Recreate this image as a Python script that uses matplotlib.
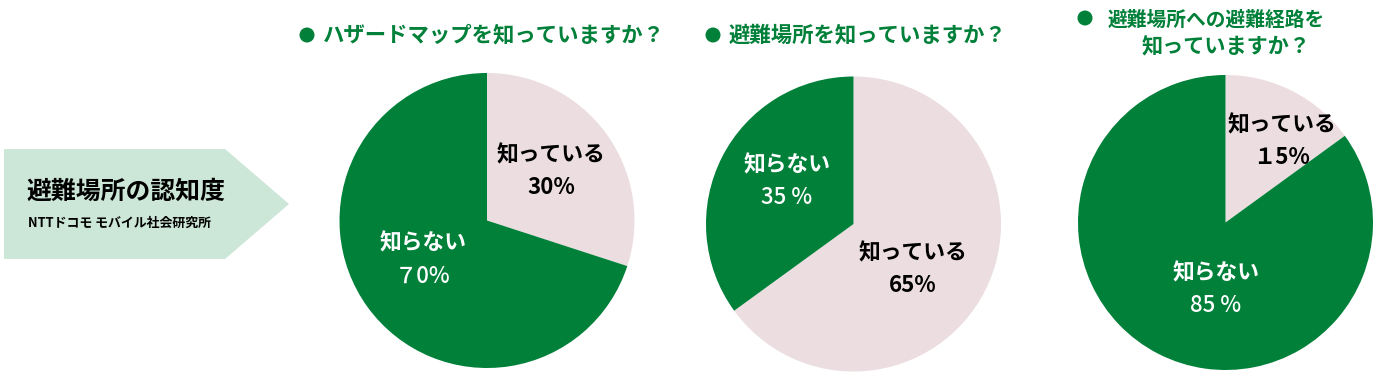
"""
Awareness of evacuation sites - three pie charts.
"""

import matplotlib
matplotlib.use("Agg")
import matplotlib.pyplot as plt
from matplotlib.patches import Polygon, Circle

plt.rcParams['font.family'] = ['Noto Sans CJK JP', 'DejaVu Sans']

GREEN = "#008039"
PINK = "#EBDDE0"
BOX = "#CCE6D7"

# data
titles = ["ハザードマップを知っていますか？",
          "避難場所を知っていますか？",
          "避難場所への避難経路を\n知っていますか？"]
known_pct = [30, 65, 15]
unknown_pct = [70, 35, 85]
known_txt = ["30%", "65%", "１5%"]
unknown_txt = ["７0%", "35 %", "85 %"]
label_known = "知っている"
label_unknown = "知らない"

# layout (image pixels, y from top)
H = 386
centers = [(487, 220.5), (853.5, 224), (1225.5, 222.5)]
radius = 147.5
known_pos = [(551, 155), (913, 253), (1282, 125)]
unknown_pos = [(423, 243), (787, 165), (1216, 273)]
title_pos = [(307, 35), (713, 35), (1085, 18)]


def main():
    fig = plt.figure(figsize=(13.82, 3.86), dpi=100)
    ax = fig.add_axes([0, 0, 1, 1])
    ax.set_xlim(0, 1382)
    ax.set_ylim(0, H)
    ax.axis("off")

    # left arrow box
    pts = [(4, 149), (225, 149), (289, 204), (225, 259), (4, 259)]
    ax.add_patch(Polygon([(x, H - y) for x, y in pts], closed=True,
                         facecolor=BOX, edgecolor="none"))
    ax.text(27, H - 192, "避難場所の認知度", fontsize=17.9, fontweight="bold",
            ha="left", va="center", color="black")
    ax.text(28, H - 223, "NTTドコモ モバイル社会研究所", fontsize=9.3,
            fontweight="bold", ha="left", va="center", color="black")

    for i in range(3):
        cx, cy = centers[i]
        ax.pie([known_pct[i], unknown_pct[i]], colors=[PINK, GREEN],
               startangle=90, counterclock=False,
               center=(cx, H - cy), radius=radius, frame=True,
               wedgeprops=dict(linewidth=0))

        kx, ky = known_pos[i]
        ax.text(kx, H - ky, label_known, fontsize=15.7, fontweight="bold",
                ha="center", va="center", color="black")
        ax.text(kx, H - ky - 32, known_txt[i], fontsize=16, fontweight="bold",
                ha="center", va="center", color="black")
        ux, uy = unknown_pos[i]
        ax.text(ux, H - uy, label_unknown, fontsize=15.7, fontweight="bold",
                ha="center", va="center", color="white")
        ax.text(ux, H - uy - 33, unknown_txt[i], fontsize=16, fontweight="medium",
                ha="center", va="center", color="white")

        # titles with bullets
        bx, by = title_pos[i]
        ax.add_patch(Circle((bx, H - by), 7.5, facecolor=GREEN, edgecolor="none"))
        if i < 2:
            ax.text(bx + 16, H - by, titles[i], fontsize=15.4, fontweight="bold",
                    ha="left", va="center", color=GREEN)
        else:
            line1, line2 = titles[i].split("\n")
            ax.text(1108, H - 20, line1, fontsize=14.2, fontweight="bold",
                    ha="left", va="center", color=GREEN)
            ax.text(1226, H - 47, line2, fontsize=15.2, fontweight="bold",
                    ha="center", va="center", color=GREEN)

    ax.set_xlim(0, 1382)
    ax.set_ylim(0, H)
    ax.set_aspect("auto")
    ax.axis("off")
    fig.savefig("out.png", dpi=100)


if __name__ == "__main__":
    main()
